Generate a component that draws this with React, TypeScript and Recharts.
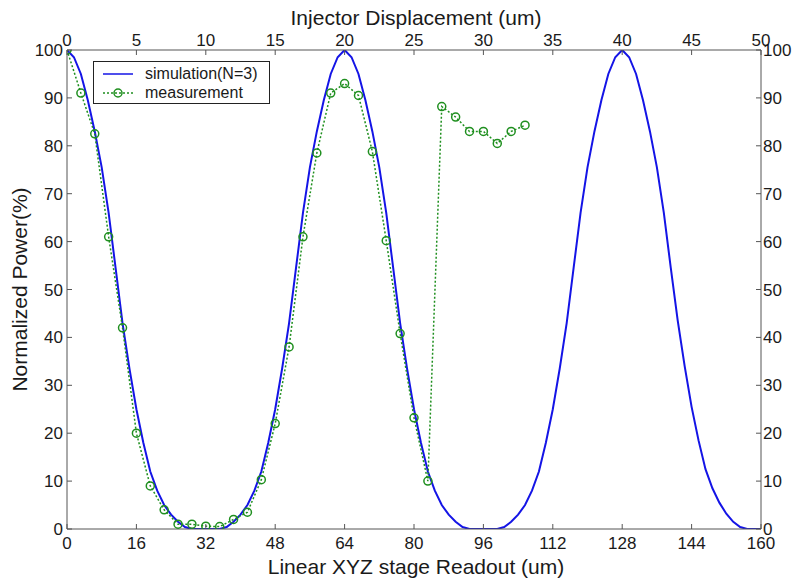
import React from "react";
import { ComposedChart, Label, Legend, Line, XAxis, YAxis } from "recharts";

const FONT = '"Liberation Sans", Arial, Helvetica, sans-serif';
const AXIS_COLOR = "#555";
const TEXT_COLOR = "#1a1a1a";
const SIM_COLOR = "#1414e6";
const MEAS_COLOR = "#1f8f1f";

const SERIES_NAMES = ["simulation(N=3)", "measurement"];

// bottom axis: linear XYZ stage readout (um)
const stageReadout = [
  0, 1.6, 3.2, 4.8, 6.4, 8, 9.6, 11.2, 12.8, 14.4, 16, 17.6, 19.2, 20.8, 22.4,
  24, 25.6, 27.2, 28.8, 30.4, 32, 33.6, 35.2, 36.8, 38.4, 40, 41.6, 43.2, 44.8,
  46.4, 48, 49.6, 51.2, 52.8, 54.4, 56, 57.6, 59.2, 60.8, 62.4, 64, 65.6, 67.2,
  68.8, 70.4, 72, 73.6, 75.2, 76.8, 78.4, 80, 81.6, 83.2, 84.8, 86.4, 88, 89.6,
  91.2, 92.8, 94.4, 96, 97.6, 99.2, 100.8, 102.4, 104, 105.6, 107.2, 108.8,
  110.4, 112, 113.6, 115.2, 116.8, 118.4, 120, 121.6, 123.2, 124.8, 126.4, 128,
  129.6, 131.2, 132.8, 134.4, 136, 137.6, 139.2, 140.8, 142.4, 144, 145.6,
  147.2, 148.8, 150.4, 152, 153.6, 155.2, 156.8, 158.4, 160,
];

// simulation(N=3), normalized power in %
const simulationPower = [
  100, 98.5, 95, 89.5, 83, 75.5, 66, 54.5, 43, 33.5, 25, 18, 12, 8, 5, 3, 1.5,
  0.4, 0, 0, 0,
  0, 0, 0.4, 1.5, 3, 5, 8, 12, 18, 25, 33.5, 43, 54.5, 66, 75.5, 83, 89.5, 95,
  98.5, 100,
  98.5, 95, 89.5, 83, 75.5, 66, 54.5, 43, 33.5, 25, 18, 12, 8, 5, 3, 1.5, 0.4,
  0, 0, 0,
  0, 0, 0.4, 1.5, 3, 5, 8, 12, 18, 25, 33.5, 43, 54.5, 66, 75.5, 83, 89.5, 95,
  98.5, 100,
  98.5, 95, 89.5, 83, 75.5, 66, 54.5, 43.5, 34, 25.5, 18.5, 12.5, 8.5, 5.5,
  3.2, 1.5, 0.4, 0, 0, 0,
];

// top axis: injector displacement (um)
const injectorDisplacement = [
  0, 1, 2, 3, 4, 5, 6, 7, 8, 9, 10, 11, 12, 13, 14, 15, 16, 17, 18, 19, 20, 21,
  22, 23, 24, 25, 26, 27, 28, 29, 30, 31, 32, 33,
];

const measuredPower = [
  100, 91, 82.5, 61, 42, 20, 9, 4, 1, 1, 0.6, 0.5, 2, 3.5, 10.3, 22, 38, 61,
  78.5, 91, 93, 90.5, 78.8, 60.2, 40.8, 23.2, 10, 88.2, 86, 83, 83, 80.5, 83,
  84.3,
];

const stageTicks = [0, 16, 32, 48, 64, 80, 96, 112, 128, 144, 160];
const injectorTicks = [0, 5, 10, 15, 20, 25, 30, 35, 40, 45, 50];
const powerTicks = [0, 10, 20, 30, 40, 50, 60, 70, 80, 90, 100];

const simData = stageReadout.map((x, i) => ({ x, power: simulationPower[i] }));
const measData = injectorDisplacement.map((u, i) => ({
  u,
  power: measuredPower[i],
}));

type Side = "bottom" | "top" | "left" | "right";

// MATLAB style: tick marks point into the plot box
const AxisTick = (props: any) => {
  const { x, y, payload, side } = props as { x: number; y: number; payload: any; side: Side };
  const len = 5;
  const textStyle = { fontFamily: FONT, fontSize: 17, fill: TEXT_COLOR };
  if (side === "bottom" || side === "top") {
    const dir = side === "bottom" ? -1 : 1;
    return (
      <g>
        <line x1={x} x2={x} y1={y} y2={y + dir * len} stroke={AXIS_COLOR} />
        <text
          x={x}
          y={side === "bottom" ? y + 20 : y - 4}
          textAnchor="middle"
          style={textStyle}
        >
          {payload.value}
        </text>
      </g>
    );
  }
  const dir = side === "left" ? 1 : -1;
  return (
    <g>
      <line x1={x} x2={x + dir * len} y1={y} y2={y} stroke={AXIS_COLOR} />
      <text
        x={side === "left" ? x - 4 : x + 2}
        y={y + 6}
        textAnchor={side === "left" ? "end" : "start"}
        style={textStyle}
      >
        {payload.value}
      </text>
    </g>
  );
};

const titleStyle = { fontFamily: FONT, fontSize: 21, fill: TEXT_COLOR };

const renderLegend = (props: any) => {
  const items = [...(props.payload ?? [])].sort(
    (a: any, b: any) => SERIES_NAMES.indexOf(a.value) - SERIES_NAMES.indexOf(b.value)
  );
  return (
    <div
      style={{
        width: 177,
        height: 43,
        border: "1px solid #222",
        background: "#fff",
        boxSizing: "border-box",
        fontFamily: FONT,
        fontSize: 16,
        color: TEXT_COLOR,
        paddingTop: 2,
      }}
    >
      {items.map((item: any) => {
        const dotted = item.value === "measurement";
        return (
          <div
            key={item.value}
            style={{ display: "flex", alignItems: "center", height: 19 }}
          >
            <svg width={51} height={19} style={{ flex: "none" }}>
              <line
                x1={9}
                x2={39}
                y1={10}
                y2={10}
                stroke={item.color}
                strokeWidth={1.5}
                strokeDasharray={dotted ? "2 2" : undefined}
              />
              {dotted && (
                <circle
                  cx={24}
                  cy={10}
                  r={4}
                  fill="none"
                  stroke={item.color}
                  strokeWidth={1.5}
                />
              )}
            </svg>
            <span style={{ whiteSpace: "nowrap" }}>{item.value}</span>
          </div>
        );
      })}
    </div>
  );
};

export default function App() {
  return (
    <div
      style={{
        position: "absolute",
        left: 0,
        top: 0,
        width: 793,
        height: 579,
        background: "#fff",
      }}
    >
      <ComposedChart
        width={793}
        height={579}
        margin={{ top: 20, right: 2, bottom: 20, left: 7 }}
      >
        <XAxis
          xAxisId="bottom"
          type="number"
          dataKey="x"
          orientation="bottom"
          domain={[0, 160]}
          ticks={stageTicks}
          interval={0}
          allowDataOverflow
          height={30}
          stroke={AXIS_COLOR}
          tickLine={false}
          tickSize={0}
          tickMargin={0}
          tick={(p: any) => <AxisTick {...p} side="bottom" />}
        >
          <Label
            content={(p: any) => {
              const vb = p.viewBox;
              return (
                <text
                  x={vb.x + vb.width / 2 + 2}
                  y={vb.y + vb.height + 15}
                  textAnchor="middle"
                  style={titleStyle}
                >
                  Linear XYZ stage Readout (um)
                </text>
              );
            }}
          />
        </XAxis>
        <XAxis
          xAxisId="top"
          type="number"
          dataKey="u"
          orientation="top"
          domain={[0, 50]}
          ticks={injectorTicks}
          interval={0}
          allowDataOverflow
          height={30}
          stroke={AXIS_COLOR}
          tickLine={false}
          tickSize={0}
          tickMargin={0}
          tick={(p: any) => <AxisTick {...p} side="top" />}
        >
          <Label
            content={(p: any) => {
              const vb = p.viewBox;
              return (
                <text
                  x={vb.x + vb.width / 2 + 2}
                  y={vb.y + 5}
                  textAnchor="middle"
                  style={titleStyle}
                >
                  Injector Displacement (um)
                </text>
              );
            }}
          />
        </XAxis>
        <YAxis
          yAxisId="left"
          type="number"
          orientation="left"
          domain={[0, 100]}
          ticks={powerTicks}
          interval={0}
          allowDataOverflow
          width={60}
          stroke={AXIS_COLOR}
          tickLine={false}
          tickSize={0}
          tickMargin={0}
          tick={(p: any) => <AxisTick {...p} side="left" />}
        >
          <Label
            content={(p: any) => {
              const vb = p.viewBox;
              const cx = vb.x + 20;
              const cy = vb.y + vb.height / 2;
              return (
                <text
                  x={cx}
                  y={cy}
                  textAnchor="middle"
                  transform={`rotate(-90 ${cx} ${cy})`}
                  style={titleStyle}
                >
                  Normalized Power(%)
                </text>
              );
            }}
          />
        </YAxis>
        <YAxis
          yAxisId="right"
          type="number"
          orientation="right"
          domain={[0, 100]}
          ticks={powerTicks}
          interval={0}
          allowDataOverflow
          width={30}
          stroke={AXIS_COLOR}
          tickLine={false}
          tickSize={0}
          tickMargin={0}
          tick={(p: any) => <AxisTick {...p} side="right" />}
        />
        <Legend
          content={renderLegend}
          layout="horizontal"
          verticalAlign="middle"
          align="center"
          wrapperStyle={{ left: 93, top: 61, width: 177, height: 43 }}
        />
        <Line
          name="simulation(N=3)"
          data={simData}
          xAxisId="bottom"
          yAxisId="left"
          dataKey="power"
          type="linear"
          stroke={SIM_COLOR}
          strokeWidth={2}
          dot={false}
          activeDot={false}
          isAnimationActive={false}
        />
        <Line
          name="measurement"
          data={measData}
          xAxisId="top"
          yAxisId="left"
          dataKey="power"
          type="linear"
          stroke={MEAS_COLOR}
          strokeWidth={1.5}
          strokeDasharray="2 2"
          dot={{ r: 4, fill: "none", stroke: MEAS_COLOR, strokeWidth: 1.5, strokeDasharray: "" }}
          activeDot={false}
          isAnimationActive={false}
        />
      </ComposedChart>
    </div>
  );
}
